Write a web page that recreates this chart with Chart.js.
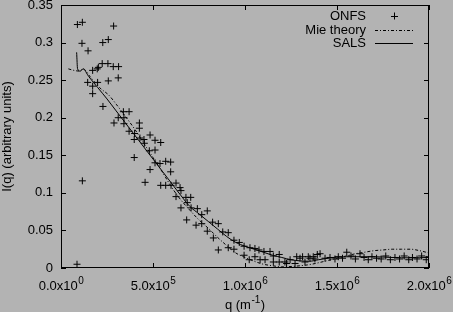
<!DOCTYPE html>
<html>
<head>
<meta charset="utf-8">
<script src="https://cdn.jsdelivr.net/npm/chart.js@4.4.0/dist/chart.umd.min.js"></script>
<style>
  html, body { margin: 0; padding: 0; background: #b3b3b3; }
  #wrap { width: 453px; height: 312px; position: relative; }
</style>
</head>
<body>
<div id="wrap"><canvas id="chart"></canvas></div>
<script>
// ONFS measurements (q in m^-1, intensity in arbitrary units)
const onfsQ = [
  87e3, 116e3, 89e3, 116e3, 286e3, 114e3, 227e3, 257e3, 147e3,
  172e3, 197e3, 203e3, 224e3, 255e3, 284e3, 313e3,
  311e3, 257e3, 145e3, 199e3, 172e3, 172e3, 228e3,
  339e3, 370e3, 311e3, 342e3, 288e3, 342e3,
  426e3, 426e3, 370e3, 400e3, 398e3, 429e3, 451e3, 484e3, 453e3, 511e3, 542e3, 480e3, 511e3, 398e3,
  511e3, 538e3, 569e3, 596e3, 484e3, 596e3,
  457e3, 542e3, 569e3, 598e3, 625e3, 647e3, 652e3,
  625e3, 679e3, 705e3, 652e3, 686e3, 707e3, 741e3,
  683e3, 765e3, 795e3, 765e3, 734e3, 824e3, 855e3, 795e3, 828e3, 879e3, 909e3,
  855e3, 909e3, 940e3, 969e3, 940e3, 995e3, 1027e3, 1054e3, 995e3, 1023e3, 1054e3,
  1076e3, 1103e3, 1136e3, 1082e3, 1109e3, 1154e3, 1186e3, 1154e3, 1186e3, 1217e3,
  1245e3, 1281e3, 1313e3, 1344e3, 1371e3, 1393e3,
  1226e3, 1272e3, 1326e3, 1299e3, 1353e3, 1380e3,
  1408e3, 1435e3, 1462e3, 1489e3, 1507e3, 1530e3, 1553e3, 1576e3, 1600e3, 1625e3,
  1647e3, 1670e3, 1690e3, 1715e3, 1740e3, 1765e3, 1790e3, 1815e3, 1840e3, 1865e3,
  1890e3, 1910e3, 1935e3, 1960e3, 1985e3, 2000e3
];
const onfsI = [
  0.005, 0.116, 0.324, 0.327, 0.322, 0.299, 0.300, 0.304, 0.289,
  0.263, 0.265, 0.267, 0.272, 0.272, 0.268, 0.268,
  0.253, 0.249, 0.247, 0.247, 0.242, 0.232, 0.215,
  0.208, 0.208, 0.200, 0.200, 0.193, 0.192,
  0.193, 0.186, 0.182, 0.179, 0.171, 0.173, 0.171, 0.177, 0.166, 0.170, 0.167, 0.156, 0.157, 0.147,
  0.140, 0.139, 0.142, 0.141, 0.131, 0.128,
  0.114, 0.110, 0.110, 0.110, 0.113, 0.107, 0.103,
  0.095, 0.094, 0.094, 0.080, 0.087, 0.080, 0.079,
  0.064, 0.071, 0.076, 0.059, 0.057, 0.061, 0.059, 0.049, 0.040, 0.048, 0.047,
  0.024, 0.027, 0.037, 0.034, 0.025, 0.029, 0.027, 0.026, 0.017, 0.011, 0.015,
  0.024, 0.022, 0.022, 0.011, 0.011, 0.016, 0.018, 0.008, 0.008, 0.008,
  0.011, 0.015, 0.015, 0.015, 0.015, 0.018,
  0.006, 0.006, 0.008, 0.013, 0.013, 0.012,
  0.019, 0.013, 0.014, 0.012, 0.015, 0.013, 0.021, 0.016, 0.012, 0.019,
  0.014, 0.011, 0.015, 0.013, 0.012, 0.016, 0.011, 0.014, 0.012, 0.016,
  0.011, 0.014, 0.012, 0.016, 0.011, 0.015
];

// Mie theory curve
const mieQ = [
  40e3, 70e3, 100e3, 120e3, 160e3, 210e3, 260e3, 300e3, 340e3, 400e3,
  450e3, 500e3, 550e3, 600e3, 650e3, 700e3, 750e3, 800e3, 850e3, 900e3,
  950e3, 1000e3, 1050e3, 1100e3, 1150e3, 1200e3, 1250e3, 1300e3, 1350e3, 1400e3,
  1450e3, 1500e3, 1550e3, 1600e3, 1650e3, 1700e3, 1750e3, 1800e3, 1850e3, 1900e3,
  1950e3, 2000e3
];
const mieI = [
  0.265, 0.263, 0.262, 0.265, 0.254, 0.240, 0.230, 0.218, 0.205, 0.185,
  0.166, 0.147, 0.128, 0.108, 0.091, 0.077, 0.064, 0.053, 0.041, 0.030,
  0.020, 0.014, 0.009, 0.005, 0.003, 0.0015, 0.002, 0.003, 0.0045, 0.007,
  0.010, 0.013, 0.016, 0.019, 0.021, 0.023, 0.024, 0.025, 0.025, 0.025,
  0.023, 0.020
];

// SALS curve
const salsQ = [
  85e3, 90e3, 105e3, 120e3, 150e3, 200e3, 250e3, 300e3, 350e3, 400e3,
  450e3, 500e3, 550e3, 600e3, 650e3, 700e3, 750e3, 800e3, 850e3, 900e3,
  950e3, 1000e3, 1050e3, 1100e3, 1150e3, 1200e3, 1250e3, 1300e3, 1350e3, 1400e3,
  1450e3, 1500e3, 1600e3, 1700e3, 1800e3, 1900e3, 2000e3
];
const salsI = [
  0.287, 0.265, 0.262, 0.265, 0.255, 0.240, 0.225, 0.209, 0.193, 0.177,
  0.161, 0.145, 0.129, 0.113, 0.097, 0.082, 0.072, 0.062, 0.052, 0.042,
  0.034, 0.029, 0.025, 0.021, 0.017, 0.014, 0.011, 0.0095, 0.009, 0.011,
  0.013, 0.0145, 0.015, 0.015, 0.014, 0.0135, 0.014
];

const xTicks = [0, 5e5, 1e6, 1.5e6, 2e6];
const xTickMantissa = ["0.0x10", "5.0x10", "1.0x10", "1.5x10", "2.0x10"];
const xTickExponent = ["0", "5", "6", "6", "6"];
const yTicks = [0, 0.05, 0.1, 0.15, 0.2, 0.25, 0.3, 0.35];
const legendLabels = ["ONFS", "Mie theory", "SALS"];

const FONT = "Liberation Sans, Arial, Helvetica, sans-serif";

function pairs(qs, is) {
  return qs.map((q, i) => ({ x: q, y: is[i] }));
}

// text with a raised exponent, centred on cx
function supText(ctx, base, exp, cx, y) {
  ctx.font = "13px " + FONT;
  const wb = ctx.measureText(base).width;
  ctx.font = "10px " + FONT;
  const we = ctx.measureText(exp).width;
  const x = cx - (wb + we) / 2;
  ctx.font = "13px " + FONT;
  ctx.fillText(base, x, y);
  ctx.font = "10px " + FONT;
  ctx.fillText(exp, x + wb + 0.5, y - 6);
}

const frame = {
  id: "frame",
  afterDatasetsDraw(chart) {
    const { ctx, chartArea: a, scales } = chart;
    ctx.save();
    ctx.strokeStyle = "#000";
    ctx.lineWidth = 1;
    ctx.strokeRect(a.left + 0.5, a.top + 0.5, a.right - a.left - 1, a.bottom - a.top - 1);
    ctx.beginPath();
    xTicks.forEach((v) => {
      const x = Math.round(scales.x.getPixelForValue(v)) + 0.5;
      ctx.moveTo(x, a.bottom);
      ctx.lineTo(x, a.bottom - 5);
      ctx.moveTo(x, a.top);
      ctx.lineTo(x, a.top + 5);
    });
    yTicks.forEach((v) => {
      const y = Math.round(scales.y.getPixelForValue(v)) + 0.5;
      ctx.moveTo(a.left, y);
      ctx.lineTo(a.left + 5, y);
      ctx.moveTo(a.right, y);
      ctx.lineTo(a.right - 5, y);
    });
    ctx.stroke();

    // x tick labels and title with raised exponents
    ctx.fillStyle = "#000";
    ctx.textAlign = "left";
    ctx.textBaseline = "alphabetic";
    xTicks.forEach((v, i) => {
      supText(ctx, xTickMantissa[i], xTickExponent[i], scales.x.getPixelForValue(v), a.bottom + 22);
    });
    ctx.font = "13px " + FONT;
    const head = "q (m";
    const wHead = ctx.measureText(head).width;
    const wTail = ctx.measureText(")").width;
    ctx.font = "10px " + FONT;
    const wExp = ctx.measureText("-1").width;
    let tx = (a.left + a.right) / 2 - (wHead + wExp + wTail + 1) / 2;
    ctx.font = "13px " + FONT;
    ctx.fillText(head, tx, a.bottom + 41);
    ctx.font = "10px " + FONT;
    ctx.fillText("-1", tx + wHead + 0.5, a.bottom + 35);
    ctx.font = "13px " + FONT;
    ctx.fillText(")", tx + wHead + wExp + 1, a.bottom + 41);

    // legend: label right-aligned, sample to the right
    ctx.font = "13px " + FONT;
    ctx.textAlign = "right";
    ctx.textBaseline = "middle";
    const rows = [16, 30, 43];
    chart.data.datasets.forEach((ds, i) => {
      const y = rows[i];
      ctx.fillText(legendLabels[i], 366, y);
      ctx.beginPath();
      if (i === 0) {
        ctx.setLineDash([]);
        ctx.moveTo(394.5, y - 3.5);
        ctx.lineTo(394.5, y + 3.5);
        ctx.moveTo(391, y + 0.5);
        ctx.lineTo(398, y + 0.5);
      } else {
        ctx.setLineDash(ds.borderDash || []);
        ctx.moveTo(375, y + 0.5);
        ctx.lineTo(413, y + 0.5);
      }
      ctx.stroke();
    });
    ctx.restore();
  },
};

new Chart(document.getElementById("chart"), {
  type: "scatter",
  data: {
    datasets: [
      {
        label: legendLabels[0],
        data: pairs(onfsQ, onfsI),
        pointStyle: "cross",
        pointRadius: 3.5,
        borderColor: "#000",
        borderWidth: 1,
        showLine: false,
      },
      {
        label: legendLabels[1],
        data: pairs(mieQ, mieI),
        showLine: true,
        borderColor: "#000",
        borderWidth: 1,
        borderDash: [3, 2, 1, 2],
        pointRadius: 0,
        cubicInterpolationMode: "monotone",
      },
      {
        label: legendLabels[2],
        data: pairs(salsQ, salsI),
        showLine: true,
        borderColor: "#000",
        borderWidth: 1,
        pointRadius: 0,
        cubicInterpolationMode: "monotone",
      },
    ],
  },
  options: {
    responsive: true,
    maintainAspectRatio: false,
    animation: false,
    layout: { padding: { left: 0, right: 24, top: 4, bottom: 0 } },
    plugins: {
      legend: { display: false },
      tooltip: { enabled: false },
    },
    scales: {
      x: {
        type: "linear",
        min: 0,
        max: 2e6,
        afterBuildTicks(scale) {
          scale.ticks = xTicks.map((v) => ({ value: v }));
        },
        afterFit(scale) {
          scale.height = 44;
          scale.paddingLeft = 0;
          scale.paddingRight = 0;
        },
        grid: { display: false, drawTicks: false },
        border: { display: false },
        ticks: { display: false },
      },
      y: {
        min: 0,
        max: 0.35,
        afterBuildTicks(scale) {
          scale.ticks = yTicks.map((v) => ({ value: v }));
        },
        afterFit(scale) {
          scale.width = 61;
          scale.paddingTop = 0;
          scale.paddingBottom = 0;
        },
        grid: { display: false, drawTicks: false },
        border: { display: false },
        ticks: {
          color: "#000",
          font: { family: FONT, size: 13 },
          padding: 8,
          callback: (v) => String(Number(v.toFixed(2))),
        },
        title: {
          display: true,
          text: "I(q) (arbitrary units)",
          color: "#000",
          font: { family: FONT, size: 13 },
          padding: { top: 0, bottom: 0 },
        },
      },
    },
  },
  plugins: [frame],
});
</script>
</body>
</html>
